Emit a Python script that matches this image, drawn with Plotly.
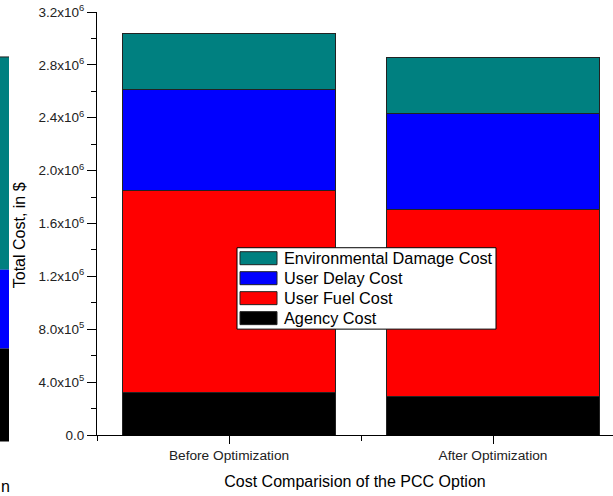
import plotly.graph_objects as go

categories = ["Before Optimization", "After Optimization"]
cat_pos = [0, 1]
agency_cost = [0.319e6, 0.289e6]
user_fuel_cost = [1.530e6, 1.417e6]
user_delay_cost = [0.764e6, 0.726e6]
env_damage_cost = [0.424e6, 0.421e6]

y_tickvals = [0, 0.4e6, 0.8e6, 1.2e6, 1.6e6, 2.0e6, 2.4e6, 2.8e6, 3.2e6]
y_ticktext = ["0.0", "4.0x10<sup>5</sup>", "8.0x10<sup>5</sup>", "1.2x10<sup>6</sup>",
              "1.6x10<sup>6</sup>", "2.0x10<sup>6</sup>", "2.4x10<sup>6</sup>",
              "2.8x10<sup>6</sup>", "3.2x10<sup>6</sup>"]

series = [
    ("Agency Cost", agency_cost, "#000000"),
    ("User Fuel Cost", user_fuel_cost, "#FF0000"),
    ("User Delay Cost", user_delay_cost, "#0000FF"),
    ("Environmental Damage Cost", env_damage_cost, "#008080"),
]

fig = go.Figure()
for name, vals, col in series:
    fig.add_trace(go.Bar(
        x=cat_pos, y=vals, name=name, width=0.805,
        marker=dict(color=col, line=dict(color="#222222", width=1)),
        showlegend=False,
    ))

W, H = 613, 496
L, T, B = 97, 12, 60.5

fig.update_layout(
    width=W, height=H,
    barmode="stack",
    plot_bgcolor="white", paper_bgcolor="white",
    margin=dict(l=L, r=0, t=T, b=B, autoexpand=False),
    font=dict(family="Liberation Sans, Arial, sans-serif", color="#000000"),
    showlegend=False,
)

fig.update_xaxes(
    range=[-0.5, 1.4545],
    tickmode="array", tickvals=cat_pos, ticktext=categories,
    ticks="outside", ticklen=8, tickwidth=1, tickcolor="#000000",
    showline=True, linecolor="#000000", linewidth=1,
    showgrid=False, zeroline=False,
    tickfont=dict(size=13.7, color="#222222"),
    minor=dict(tickvals=[-0.5, 0.5, 1.5], ticks="outside", ticklen=5,
               tickwidth=1, tickcolor="#000000", showgrid=False),
    title=dict(text="Cost Comparision of the PCC Option", font=dict(size=16), standoff=13),
    automargin=False,
)
fig.update_yaxes(
    range=[0, 3.2e6],
    tickmode="array", tickvals=y_tickvals, ticktext=y_ticktext,
    ticks="outside", ticklen=9, tickwidth=1, tickcolor="#000000",
    showline=True, linecolor="#000000", linewidth=1,
    showgrid=False, zeroline=False,
    tickfont=dict(size=13.5, color="#222222"),
    minor=dict(dtick=0.2e6, tick0=0, ticks="outside", ticklen=5,
               tickwidth=1, tickcolor="#000000", showgrid=False),
    automargin=False,
)

pw, ph = W - L, H - T - B
def px_x(px):
    return (px - L) / pw
def px_y(py):
    return (H - B - py) / ph

# Y-axis title placed explicitly
fig.add_annotation(text="Total Cost, in $", xref="paper", yref="paper",
                   x=px_x(19.5), y=px_y(236), xanchor="center", yanchor="middle",
                   textangle=-90, showarrow=False, font=dict(size=16, color="#000000"))

# Legend box drawn by hand (series listed top to bottom in reverse stack order)
fig.add_shape(type="rect", xref="paper", yref="paper",
              x0=px_x(237), x1=px_x(496), y0=px_y(329.5), y1=px_y(248),
              fillcolor="white", line=dict(color="#000000", width=1), layer="above")
for i, (name, vals, col) in enumerate(reversed(series)):
    cy = 258.5 + 20 * i
    fig.add_shape(type="rect", xref="paper", yref="paper",
                  x0=px_x(240), x1=px_x(277), y0=px_y(cy + 6.5), y1=px_y(cy - 6.5),
                  fillcolor=col, line=dict(color="#222222", width=1), layer="above")
    fig.add_annotation(text=name, xref="paper", yref="paper",
                       x=px_x(282), y=px_y(cy), xanchor="left", yanchor="middle",
                       showarrow=False, font=dict(size=16.3, color="#000000"))

# Cropped fragment of a neighbouring figure visible at the left edge of the image
frag = [(57, 270, "#008080"), (270, 349, "#0000FF"), (349, 442, "#000000")]
for y0, y1, col in frag:
    fig.add_shape(type="rect", xref="paper", yref="paper",
                  x0=px_x(-2), x1=px_x(9), y0=px_y(y1), y1=px_y(y0),
                  fillcolor=col, line=dict(width=0), layer="below")
fig.add_shape(type="line", xref="paper", yref="paper",
              x0=px_x(-2), x1=px_x(9), y0=px_y(57), y1=px_y(57),
              line=dict(color="#222222", width=1), layer="below")
fig.add_annotation(text="n", xref="paper", yref="paper", x=px_x(-1), y=px_y(487),
                   xanchor="left", yanchor="middle", showarrow=False,
                   font=dict(size=16, color="#000000"))

fig.write_html("out.html", config={"displayModeBar": False},
               post_script="document.body.style.margin='0';")
